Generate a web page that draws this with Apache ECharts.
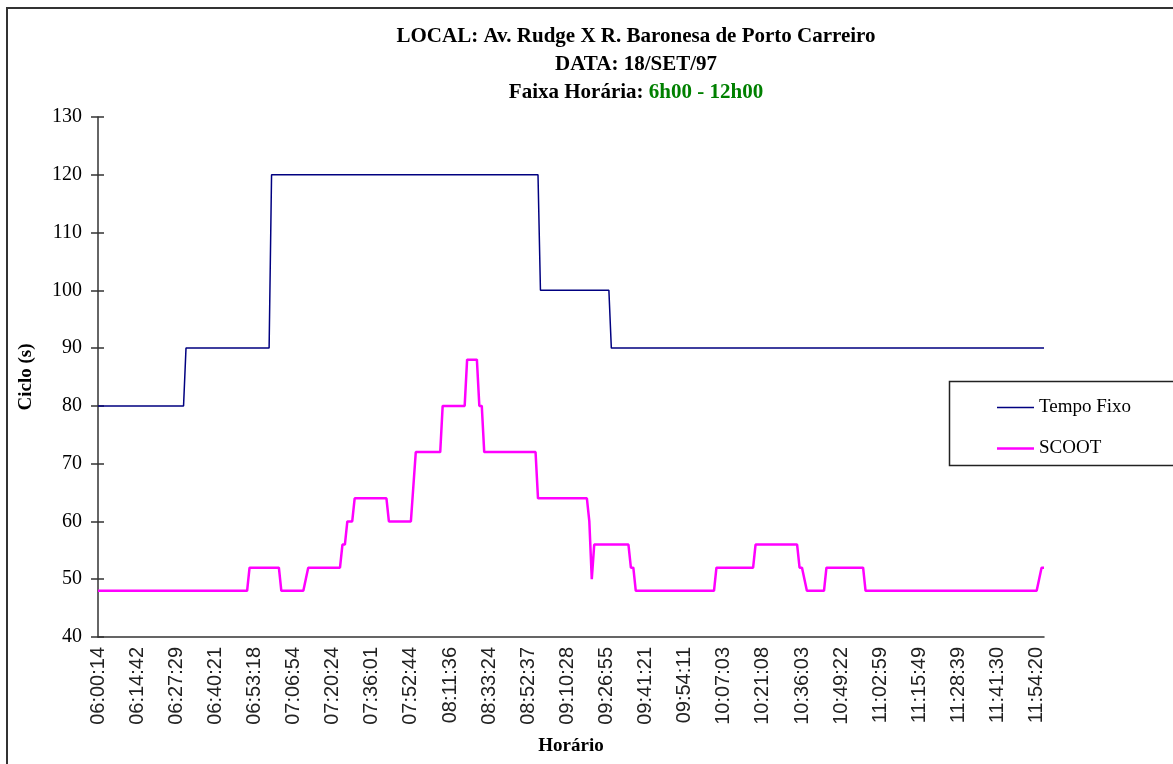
<!DOCTYPE html>
<html>
<head>
<meta charset="utf-8">
<script src="https://cdn.jsdelivr.net/npm/echarts@6/dist/echarts.min.js"></script>
<style>
  html, body { margin: 0; padding: 0; background: #fff; }
  #chart { width: 1173px; height: 764px; }
</style>
</head>
<body>
<div id="chart"></div>
<script>
// Cycle records (one per SCOOT cycle); x is the record number, labels every 16 records.
const recordsPerLabel = 16;
const lastRecord = 387;

const tickLabels = [
  '06:00:14', '06:14:42', '06:27:29', '06:40:21', '06:53:18', '07:06:54',
  '07:20:24', '07:36:01', '07:52:44', '08:11:36', '08:33:24', '08:52:37',
  '09:10:28', '09:26:55', '09:41:21', '09:54:11', '10:07:03', '10:21:08',
  '10:36:03', '10:49:22', '11:02:59', '11:15:49', '11:28:39', '11:41:30',
  '11:54:20'
];

// [record, cycle (s)] at each change of cycle length
const tempoFixo = [
  [0, 80], [35, 80], [36, 90], [70, 90], [71, 120], [180, 120], [181, 100],
  [209, 100], [210, 90], [387, 90]
];

const scoot = [
  [0, 48], [61, 48], [62, 52], [74, 52], [75, 48], [84, 48], [85, 50], [86, 52],
  [99, 52], [100, 56], [101, 56], [102, 60], [104, 60], [105, 64], [118, 64],
  [119, 60], [128, 60], [129, 66], [130, 72], [140, 72], [141, 80], [150, 80],
  [151, 88], [155, 88], [156, 80], [157, 80], [158, 72], [179, 72], [180, 64],
  [200, 64], [201, 60], [202, 50], [203, 56], [217, 56], [218, 52], [219, 52],
  [220, 48], [252, 48], [253, 52], [268, 52], [269, 56], [286, 56], [287, 52],
  [288, 52], [289, 50], [290, 48], [297, 48], [298, 52], [313, 52], [314, 48],
  [384, 48], [385, 50], [386, 52], [387, 52]
];

const serif = '"Liberation Serif", "Times New Roman", serif';
const sans = '"Liberation Sans", Arial, sans-serif';

const navy = '#000080';
const magenta = '#ff00ff';

const chart = echarts.init(document.getElementById('chart'), null, { renderer: 'canvas' });

const titleFont = { fontFamily: serif, fontSize: 21, fontWeight: 'bold', color: '#000' };

chart.setOption({
  animation: false,
  backgroundColor: '#ffffff',
  title: [
    {
      text: 'LOCAL: Av. Rudge X R. Baronesa de Porto Carreiro',
      left: 631, top: 21, textAlign: 'center',
      textStyle: titleFont
    },
    {
      text: 'DATA: 18/SET/97',
      left: 631, top: 49, textAlign: 'center',
      textStyle: titleFont
    },
    {
      text: '{k|Faixa Horária: }{g|6h00 - 12h00}',
      left: 631, top: 77, textAlign: 'center',
      textStyle: {
        fontFamily: serif, fontSize: 21, fontWeight: 'bold',
        rich: {
          k: { fontFamily: serif, fontSize: 21, fontWeight: 'bold', color: '#000' },
          g: { fontFamily: serif, fontSize: 21, fontWeight: 'bold', color: '#008000' }
        }
      }
    }
  ],
  legend: {
    orient: 'vertical',
    left: 992, top: 393,
    itemWidth: 37, itemHeight: 20, itemGap: 22,
    symbolKeepAspect: true,
    textStyle: { fontFamily: serif, fontSize: 19, color: '#000' },
    data: [
      { name: 'Tempo Fixo', icon: 'path://M0,0H37V1.5H0Z' },
      { name: 'SCOOT', icon: 'path://M0,0H37V2.6H0Z' }
    ],
    z: 10
  },
  graphic: [
    {
      type: 'rect', z: 1, silent: true,
      shape: { x: 7, y: 8, width: 1300, height: 900 },
      style: { fill: 'none', stroke: '#333', lineWidth: 2 }
    },
    {
      type: 'rect', z: 1, silent: true,
      shape: { x: 949.5, y: 381.5, width: 260, height: 84 },
      style: { fill: 'none', stroke: '#222', lineWidth: 1.5 }
    }
  ],
  grid: { left: 98, right: 129, top: 117, bottom: 127, containLabel: false },
  xAxis: {
    type: 'value',
    min: 0, max: lastRecord, interval: recordsPerLabel,
    name: 'Horário', nameLocation: 'middle', nameGap: 100,
    nameTextStyle: { fontFamily: serif, fontSize: 19, fontWeight: 'bold', color: '#000' },
    axisLine: { show: true, onZero: false, lineStyle: { color: '#333', width: 1.5 } },
    axisTick: { show: false },
    splitLine: { show: false },
    axisLabel: {
      rotate: 90, margin: 10, showMaxLabel: false,
      fontFamily: sans, fontSize: 20, color: '#222',
      formatter: function (v) {
        const i = v / recordsPerLabel;
        return Number.isInteger(i) && tickLabels[i] ? tickLabels[i] : '';
      }
    }
  },
  yAxis: [
    {
      type: 'value', position: 'left',
      min: 40, max: 130, interval: 10,
      name: 'Ciclo (s)', nameLocation: 'middle', nameRotate: 90, nameGap: 62,
      nameTextStyle: { fontFamily: serif, fontSize: 19, fontWeight: 'bold', color: '#000' },
      axisLine: { show: true, lineStyle: { color: '#333', width: 1.5 } },
      axisTick: { show: true, inside: false, length: 7, lineStyle: { color: '#333', width: 1.5 } },
      splitLine: { show: false },
      axisLabel: { margin: 16, fontFamily: serif, fontSize: 20, color: '#000' }
    },
    {
      type: 'value', position: 'left',
      min: 40, max: 130, interval: 10,
      axisLine: { show: false },
      axisTick: { show: true, inside: true, length: 6, lineStyle: { color: '#333', width: 1.5 } },
      splitLine: { show: false },
      axisLabel: { show: false }
    }
  ],
  series: [
    {
      name: 'Tempo Fixo', type: 'line', yAxisIndex: 0,
      data: tempoFixo, symbol: 'none',
      lineStyle: { color: navy, width: 1.5 },
      itemStyle: { color: navy }
    },
    {
      name: 'SCOOT', type: 'line', yAxisIndex: 0,
      data: scoot, symbol: 'none',
      lineStyle: { color: magenta, width: 2.5 },
      itemStyle: { color: magenta }
    }
  ]
});
</script>
</body>
</html>
